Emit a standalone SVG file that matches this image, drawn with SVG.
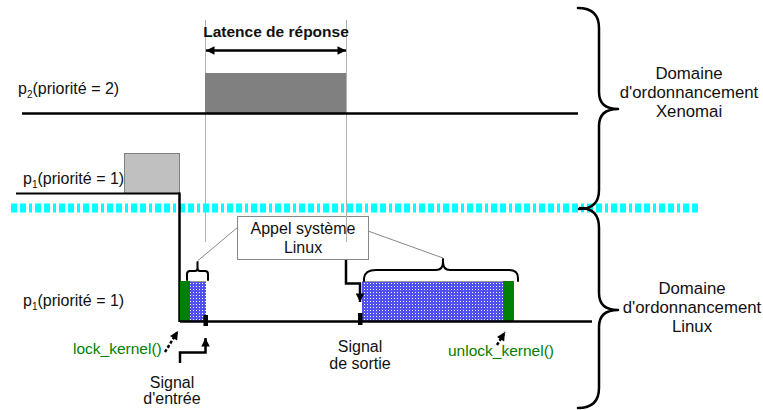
<svg xmlns="http://www.w3.org/2000/svg" width="763" height="410" viewBox="0 0 763 410">
<style>
text{font-family:"Liberation Sans",Arial,sans-serif;fill:#111;font-size:16px}
.bold{font-weight:bold;font-size:15.5px}
.dom{font-size:16.8px;text-anchor:middle}
.mid{text-anchor:middle}
.green{fill:#008000;font-size:15.5px}
.guide{stroke:#b0b0b0;stroke-width:1;fill:none}
.lead{stroke:#888;stroke-width:1;fill:none}
.thick{stroke:#000;stroke-width:2.5;fill:none}
.brace{stroke:#000;stroke-width:2.5;fill:none;stroke-linecap:round;stroke-linejoin:round}
.dotted{stroke:#000;stroke-width:2.5;fill:none;stroke-dasharray:3 2}
.blue{fill:#5050f2}
</style>
<defs>
<pattern id="dots" x="0" y="0" width="3" height="3" patternUnits="userSpaceOnUse">
<rect x="1" y="1" width="1" height="1" fill="#ffffff"/>
</pattern>
<marker id="ah" viewBox="0 0 10 10" refX="10" refY="5" markerWidth="4.4" markerHeight="3.4" orient="auto" markerUnits="strokeWidth">
<path d="M0,0 L10,5 L0,10 z" fill="#000"/>
</marker>
<marker id="ahs" viewBox="0 0 10 10" refX="0" refY="5" markerWidth="4.4" markerHeight="3.4" orient="auto" markerUnits="strokeWidth">
<path d="M10,0 L0,5 L10,10 z" fill="#000"/>
</marker>
</defs>

<!-- guides -->
<g id="guides">
<line class="guide" x1="205.5" y1="20" x2="205.5" y2="242"/>
<line class="guide" x1="346.5" y1="20" x2="346.5" y2="242"/>
</g>

<!-- latency -->
<g id="latence">
<text class="bold mid" x="276" y="37">Latence de réponse</text>
<line x1="206" y1="50.5" x2="346" y2="50.5" stroke="#000" stroke-width="2.5" marker-start="url(#ahs)" marker-end="url(#ah)"/>
</g>

<!-- p2 -->
<g id="p2">
<text x="18" y="94">p<tspan font-size="10" dy="4">2</tspan><tspan dy="-4">(priorité = 2)</tspan></text>
<rect x="205" y="73" width="141" height="40" fill="#808080"/>
<line class="thick" x1="22" y1="113.5" x2="578" y2="113.5"/>
</g>

<!-- p1 xenomai -->
<g id="p1x">
<text x="23" y="184">p<tspan font-size="10" dy="4">1</tspan><tspan dy="-4">(priorité = 1)</tspan></text>
<rect x="124.5" y="153.5" width="55" height="40" fill="#c0c0c0" stroke="#808080" stroke-width="1"/>
<line x1="16" y1="193.5" x2="180" y2="193.5" stroke="#000" stroke-width="2"/>
</g>

<!-- cyan separator -->
<g id="separator">
<line x1="11" y1="208" x2="698" y2="208" stroke="#00ffff" stroke-width="9" stroke-dasharray="6 3 6 3 3 3"/>
</g>

<!-- vertical switch line -->
<g id="switch">
<line class="thick" x1="179.5" y1="192.5" x2="179.5" y2="322"/>
</g>

<!-- braces right -->
<g id="dom-xeno">
<path class="brace" d="M578,8 Q599,8 599,28 L599,92 Q599,109 618,109 Q599,109 599,126 L599,190 Q599,209 579,209"/>
<text class="dom" x="689" y="79">Domaine</text>
<text class="dom" x="689" y="98">d'ordonnancement</text>
<text class="dom" x="689" y="117">Xenomai</text>
</g>
<g id="dom-linux">
<path class="brace" d="M580,208 Q599,208 599,228 L599,293 Q599,310 618,310 Q599,310 599,327 L599,388 Q599,408 578,408"/>
<text class="dom" x="692" y="294">Domaine</text>
<text class="dom" x="692" y="313">d'ordonnancement</text>
<text class="dom" x="692" y="332">Linux</text>
</g>

<!-- p1 linux -->
<g id="p1l">
<text x="23" y="306">p<tspan font-size="10" dy="4">1</tspan><tspan dy="-4">(priorité = 1)</tspan></text>
<rect x="180" y="281" width="10" height="40" fill="#008000"/>
<rect class="blue" x="190" y="281" width="16" height="40"/>
<rect x="190" y="281" width="16" height="40" fill="url(#dots)"/>
<line x1="190" y1="281.5" x2="206" y2="281.5" stroke="#999" stroke-width="1"/>
<rect class="blue" x="362" y="281" width="141" height="40"/>
<rect x="362" y="281" width="141" height="40" fill="url(#dots)"/>
<line x1="362" y1="281.5" x2="514" y2="281.5" stroke="#999" stroke-width="1"/>
<rect x="503" y="281" width="11" height="40" fill="#008000"/>
<line class="thick" x1="180" y1="321.5" x2="592" y2="321.5"/>
</g>

<!-- appel systeme -->
<g id="appel">
<rect x="237.5" y="216.5" width="131" height="43" fill="#fff" stroke="#888" stroke-width="1"/>
<text class="mid" x="303" y="234">Appel système</text>
<text class="mid" x="303" y="253">Linux</text>
<line class="guide" x1="346.5" y1="216" x2="346.5" y2="242"/>
<path class="brace" style="stroke-width:2" d="M187,280 L187,274 Q187,271 190,271 L195,271 Q197.5,271 197.5,268 L197.5,262 M197.5,268 Q197.5,271 200,271 L205,271 Q208,271 208,274 L208,280"/>
<path class="brace" style="stroke-width:2" d="M364,281 L364,278 Q365,270 376,270 L436,270 Q443,270 443,262 L443,259 M443,262 Q443,270 450,270 L509,270 Q518,270 518,278 L518,281"/>
</g>

<!-- connectors -->
<g id="connectors">
<line class="lead" x1="197.5" y1="261" x2="238" y2="227"/>
<line class="lead" x1="368" y1="231" x2="443" y2="258"/>
<path d="M180,363 L180,352.5 L205.5,352.5 L205.5,338" stroke="#000" stroke-width="2.5" fill="none" marker-end="url(#ah)"/>
<rect x="203.5" y="315" width="4.5" height="11" fill="#000"/>
<path d="M346,260 L346,283.5 L360,283.5 L360,302" stroke="#000" stroke-width="2.5" fill="none" marker-end="url(#ah)"/>
<rect x="358" y="313" width="4.5" height="12" fill="#000"/>
<line class="dotted" x1="165" y1="352" x2="178" y2="331" marker-end="url(#ah)"/>
<line class="dotted" x1="497" y1="345" x2="505" y2="332" marker-end="url(#ah)"/>
</g>

<!-- labels -->
<g id="labels">
<text class="green" x="73" y="354">lock_kernel()</text>
<text class="green" x="448" y="356">unlock_kernel()</text>
<text class="mid" x="172" y="388">Signal</text>
<text class="mid" x="172" y="404">d'entrée</text>
<text class="mid" x="360" y="352">Signal</text>
<text class="mid" x="360" y="369">de sortie</text>
</g>
</svg>
